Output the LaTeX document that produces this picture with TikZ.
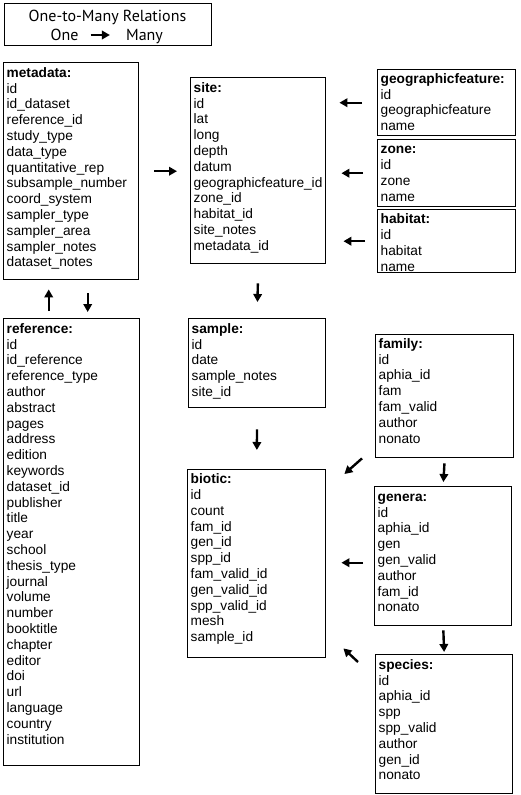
\documentclass[tikz,border=0pt]{standalone}
\usepackage{fontspec}
\setmainfont{Liberation Sans}
\newfontfamily\legendfont{PT Sans}
\usetikzlibrary{arrows.meta}
\newcommand\hstrut{\rule{0pt}{11pt}}
\begin{document}
\begin{tikzpicture}[x=1pt,y=-1pt,
  tbox/.style={draw, line width=1.4pt, rectangle, inner sep=0pt, anchor=north west},
  ttext/.style={anchor=north west, align=left, inner sep=0pt, font=\fontsize{13.7}{15.8}\selectfont},
  ltext/.style={anchor=base, inner sep=0pt, font=\legendfont\fontsize{16}{18}\selectfont},
  arr/.style={line width=2.4pt, -{Triangle[length=8pt,width=8.5pt]}}]
\useasboundingbox (0,0) rectangle (520,795);
\fill[white] (0,0) rectangle (520,795);

% legend
\node[tbox, minimum width=207pt, minimum height=42pt] (legend) at (4,3) {};
\node[ltext] (ltitle) at (107.5,21) {One-to-Many Relations};
\node[ltext] (lone) at (64.5,40) {One};
\node[ltext] (lmany) at (144.5,40) {Many};
\draw[arr, shorten <=12pt, shorten >=16pt] (lone.east |- 0,35) -- (lmany.west |- 0,35);

% boxes (text nodes: first baseline = top + 11)
\node[tbox, minimum width=135pt, minimum height=217pt] (metadata) at (3,62) {};
\node[ttext] (metadatat) at (6.5,66) {\hstrut\textbf{metadata:}\\id\\id\_dataset\\reference\_id\\study\_type\\data\_type\\quantitative\_rep\\subsample\_number\\coord\_system\\sampler\_type\\sampler\_area\\sampler\_notes\\dataset\_notes};

\node[tbox, minimum width=135pt, minimum height=186pt] (site) at (190,77) {};
\node[ttext] (sitet) at (193.5,81) {\hstrut\textbf{site:}\\id\\lat\\long\\depth\\datum\\geographicfeature\_id\\zone\_id\\habitat\_id\\site\_notes\\metadata\_id};

\node[tbox, minimum width=138pt, minimum height=66pt] (geo) at (377,69) {};
\node[ttext] (geot) at (380.5,72) {\hstrut\textbf{geographicfeature:}\\id\\geographicfeature\\name};

\node[tbox, minimum width=138pt, minimum height=67pt] (zone) at (377,139) {};
\node[ttext] (zonet) at (380.5,142.5) {\hstrut\textbf{zone:}\\id\\zone\\name};

\node[tbox, minimum width=138pt, minimum height=63pt] (habitat) at (377,209) {};
\node[ttext] (habitatt) at (380.5,212.5) {\hstrut\textbf{habitat:}\\id\\habitat\\name};

\node[tbox, minimum width=136pt, minimum height=447pt] (reference) at (3,318) {};
\node[ttext] (referencet) at (6.5,322) {\hstrut\textbf{reference:}\\id\\id\_reference\\reference\_type\\author\\abstract\\pages\\address\\edition\\keywords\\dataset\_id\\publisher\\title\\year\\school\\thesis\_type\\journal\\volume\\number\\booktitle\\chapter\\editor\\doi\\url\\language\\country\\institution};

\node[tbox, minimum width=137pt, minimum height=89pt] (sample) at (188,318) {};
\node[ttext] (samplet) at (191.5,322) {\hstrut\textbf{sample:}\\id\\date\\sample\_notes\\site\_id};

\node[tbox, minimum width=138pt, minimum height=123pt] (family) at (375,334) {};
\node[ttext] (familyt) at (378.5,337) {\hstrut\textbf{family:}\\id\\aphia\_id\\fam\\fam\_valid\\author\\nonato};

\node[tbox, minimum width=138pt, minimum height=188pt] (biotic) at (187,469) {};
\node[ttext] (biotict) at (190.5,472.5) {\hstrut\textbf{biotic:}\\id\\count\\fam\_id\\gen\_id\\spp\_id\\fam\_valid\_id\\gen\_valid\_id\\spp\_valid\_id\\mesh\\sample\_id};

\node[tbox, minimum width=137pt, minimum height=139pt] (genera) at (374,486) {};
\node[ttext] (generat) at (377.5,490) {\hstrut\textbf{genera:}\\id\\aphia\_id\\gen\\gen\_valid\\author\\fam\_id\\nonato};

\node[tbox, minimum width=137pt, minimum height=139pt] (species) at (375,654) {};
\node[ttext] (speciest) at (378.5,658) {\hstrut\textbf{species:}\\id\\aphia\_id\\spp\\spp\_valid\\author\\gen\_id\\nonato};

% connectors
\draw[arr, shorten <=15pt, shorten >=13pt] (metadata.east) -- (metadata.east -| site.west);
\draw[arr, shorten <=15pt, shorten >=13pt] (geo.west) -- (geo.west -| site.east);
\draw[arr, shorten <=14pt, shorten >=15pt] (zone.west) -- (zone.west -| site.east);
\draw[arr, shorten <=12pt, shorten >=17pt] (habitat.west) -- (habitat.west -| site.east);
\draw[arr, shorten <=7pt, shorten >=9pt] ([xshift=-23pt]reference.north) -- ([xshift=-23pt]reference.north |- metadata.south);
\draw[arr, shorten <=13pt, shorten >=6pt] ([xshift=16pt]reference.north |- metadata.south) -- ([xshift=16pt]reference.north);
\draw[arr, shorten <=19pt, shorten >=16pt] (site.south) -- (sample.north);
\draw[arr, shorten <=21pt, shorten >=19pt] (sample.south) -- (biotic.north);
\draw[arr, shorten <=5pt, shorten >=4pt] (family.south) -- (genera.north);
\draw[arr, shorten <=4pt, shorten >=2pt] (genera.south) -- (species.north);
\draw[arr, shorten <=11pt, shorten >=15pt] ([yshift=-6.5pt]genera.west) -- ([yshift=-6.5pt]genera.west -| biotic.east);
\coordinate (fbA) at ([xshift=-13pt]family.south west);
\coordinate (fbB) at ([xshift=18pt,yshift=-5pt]biotic.north east);
\draw[arr] (fbA) -- (fbB);
\coordinate (spA) at ([xshift=-17pt,yshift=-8pt]species.north west);
\coordinate (spB) at ([xshift=17pt,yshift=10pt]biotic.south east);
\draw[arr] (spA) -- (spB);
\end{tikzpicture}
\end{document}
